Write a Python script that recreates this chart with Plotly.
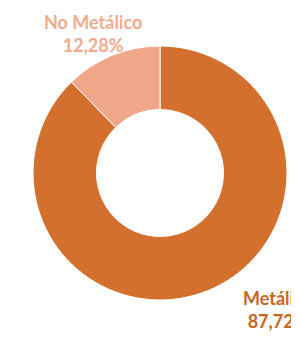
import plotly.graph_objects as go

categories = ["Metálico", "No Metálico"]
values = [87.72, 12.28]
value_labels = ["87,72%", "12,28%"]
colors = ["#D3702D", "#F0A688"]
label_colors = ["#C8651E", "#F2AB8C"]

W, H = 299, 338
OFF = 8  # page body margin

def fx(px):
    return (px - OFF) / W

def fy(py):
    return 1 - (py - OFF) / H

cx, cy, r = 160, 173, 127

fig = go.Figure()
fig.add_trace(go.Pie(
    labels=categories,
    values=values,
    hole=0.5,
    sort=False,
    direction="clockwise",
    rotation=0,
    marker=dict(colors=colors, line=dict(color="white", width=1)),
    textinfo="none",
    hoverinfo="label+percent",
    showlegend=False,
    domain=dict(x=[fx(cx - r), fx(cx + r)], y=[fy(cy + r), fy(cy - r)]),
))

# label positions in screen pixels (x from left, y from top)
label_pos = [(278, 309), (93, 34)]
for cat, vl, col, (px, py) in zip(categories, value_labels, label_colors, label_pos):
    fig.add_annotation(
        x=fx(px), y=fy(py), xref="paper", yref="paper",
        text=f"<b>{cat}</b><br><b>{vl}</b>",
        showarrow=False, xanchor="center", yanchor="middle", align="center",
        font=dict(family="Lato, 'Open Sans', sans-serif", size=18, color=col),
    )

fig.update_layout(
    width=W, height=H,
    margin=dict(l=0, r=0, t=0, b=0),
    paper_bgcolor="white", plot_bgcolor="white",
)

fig.write_html("out.html")
